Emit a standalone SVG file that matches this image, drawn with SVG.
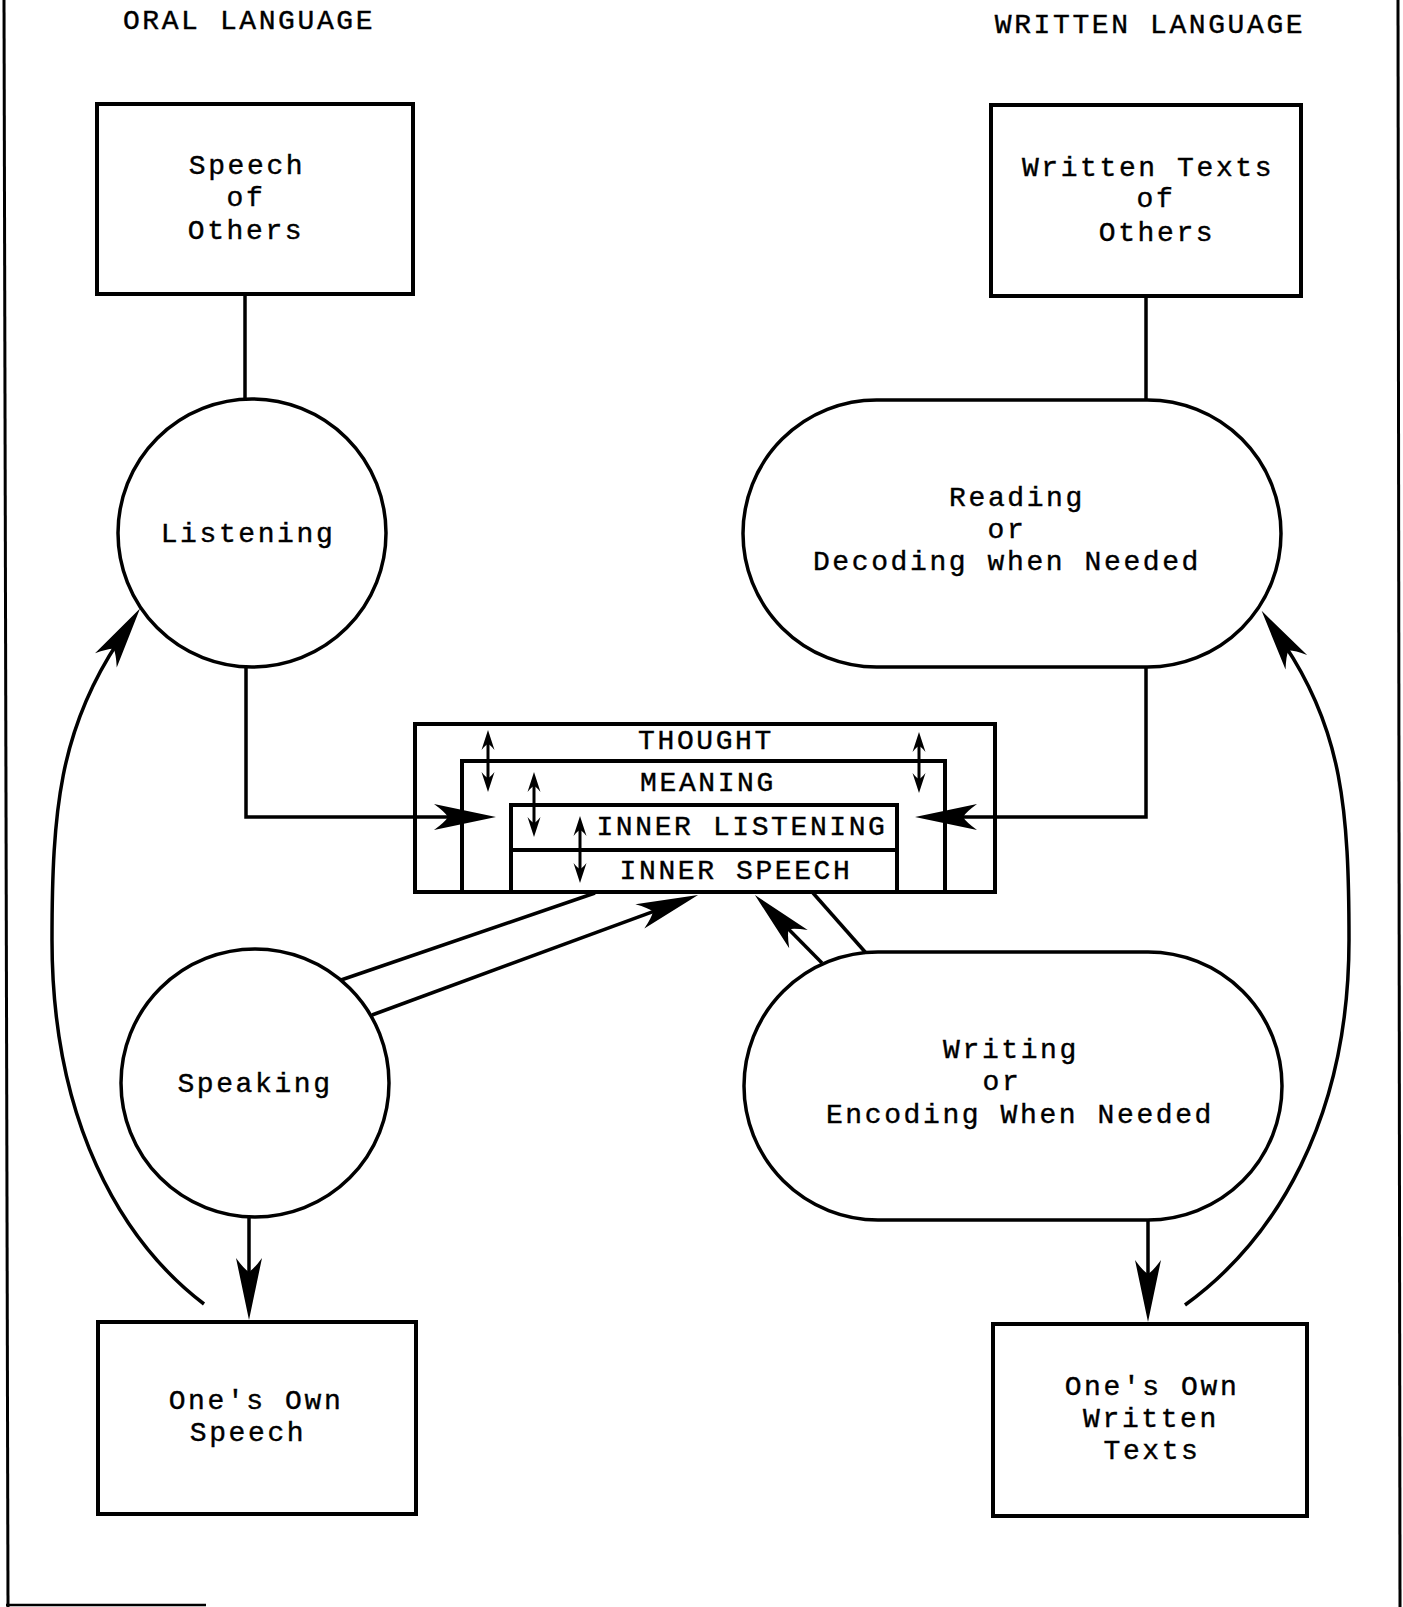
<svg xmlns="http://www.w3.org/2000/svg" width="1403" height="1607" viewBox="0 0 1403 1607">
<style>
  .box { fill: none; stroke: #000; stroke-width: 4; }
  .shape { fill: none; stroke: #000; stroke-width: 3.5; }
  .ln { fill: none; stroke: #000; stroke-width: 3.5; }
  .sm { fill: none; stroke: #000; stroke-width: 3; }
  text { font-family: "Liberation Mono", "Courier New", monospace; font-size: 28px; letter-spacing: 2.6px; fill: #000; stroke: #000; stroke-width: 0.4; text-anchor: middle; }
</style>
<defs>
  <marker id="big" markerUnits="userSpaceOnUse" viewBox="-66 -16 70 32" markerWidth="70" markerHeight="32" refX="-40" refY="0" orient="auto">
    <path d="M0,0 L-62,-13 Q-51,-5 -48,0 Q-51,5 -62,13 Z" fill="#000"/>
  </marker>
  <marker id="small" markerUnits="userSpaceOnUse" viewBox="-24 -9 26 18" markerWidth="26" markerHeight="18" refX="-9" refY="0" orient="auto-start-reverse">
    <path d="M0,0 L-20,-6.5 Q-15,-2.5 -14,0 Q-15,2.5 -20,6.5 Z" fill="#000"/>
  </marker>
</defs>
<rect width="1403" height="1607" fill="#fff"/>

<g id="frame">
  <line x1="4" y1="0" x2="8" y2="1607" stroke="#000" stroke-width="3"/>
  <line x1="1398" y1="0" x2="1400" y2="1607" stroke="#000" stroke-width="3"/>
  <line x1="6" y1="1605" x2="206" y2="1605" stroke="#000" stroke-width="2.5"/>
</g>

<g id="headings">
  <text x="249" y="29">ORAL LANGUAGE</text>
  <text x="1150" y="33">WRITTEN LANGUAGE</text>
</g>

<g id="connectors">
  <line class="ln" x1="245" y1="294" x2="245" y2="400"/>
  <line class="ln" x1="1146" y1="296" x2="1146" y2="400"/>
  <path class="ln" d="M246,667 V817 H456" marker-end="url(#big)"/>
  <path class="ln" d="M1146,667 V817 H955" marker-end="url(#big)"/>
  <line class="ln" x1="341" y1="980" x2="595" y2="893"/>
  <line class="ln" x1="372" y1="1015" x2="660.5" y2="908.8" marker-end="url(#big)"/>
  <line class="ln" x1="822" y1="963" x2="783" y2="923.5" marker-end="url(#big)"/>
  <line class="ln" x1="813" y1="893" x2="866" y2="953"/>
  <line class="ln" x1="249" y1="1217" x2="249" y2="1280" marker-end="url(#big)"/>
  <line class="ln" x1="1148" y1="1220" x2="1148" y2="1282" marker-end="url(#big)"/>
  <path class="ln" d="M204,1304 C120,1240 52,1120 52,940 C52,810 60,730 118,642" marker-end="url(#big)"/>
  <path class="ln" d="M1185,1305 C1275,1240 1349,1120 1349,940 C1349,810 1342,730 1284,644" marker-end="url(#big)"/>
</g>

<g id="speech-of-others">
  <rect class="box" x="97" y="104" width="316" height="190"/>
  <text x="247" y="174">Speech</text>
  <text x="246" y="206">of</text>
  <text x="246" y="239">Others</text>
</g>

<g id="written-texts-of-others">
  <rect class="box" x="991" y="105" width="310" height="191"/>
  <text x="1148" y="176">Written Texts</text>
  <text x="1156" y="207">of</text>
  <text x="1157" y="241">Others</text>
</g>

<g id="listening">
  <circle class="shape" cx="252" cy="533" r="134"/>
  <text x="248" y="542">Listening</text>
</g>

<g id="reading">
  <rect class="shape" x="743" y="400" width="538" height="267" rx="133.5" ry="133.5"/>
  <text x="1017" y="506">Reading</text>
  <text x="1007" y="538">or</text>
  <text x="1007" y="570">Decoding when Needed</text>
</g>

<g id="inner-box">
  <rect class="box" x="415" y="724" width="580" height="168"/>
  <path class="box" d="M462,892 V761 H945 V892"/>
  <rect class="box" x="511" y="805" width="386" height="87"/>
  <line class="box" x1="511" y1="850" x2="897" y2="850"/>
  <text x="706" y="749">THOUGHT</text>
  <text x="708" y="791">MEANING</text>
  <text x="742" y="835">INNER LISTENING</text>
  <text x="736" y="879">INNER SPEECH</text>
  <line class="sm" x1="488" y1="739" x2="488" y2="783" marker-start="url(#small)" marker-end="url(#small)"/>
  <line class="sm" x1="919" y1="741" x2="919" y2="784" marker-start="url(#small)" marker-end="url(#small)"/>
  <line class="sm" x1="534" y1="781" x2="534" y2="828" marker-start="url(#small)" marker-end="url(#small)"/>
  <line class="sm" x1="580" y1="825" x2="580" y2="874" marker-start="url(#small)" marker-end="url(#small)"/>
</g>

<g id="speaking">
  <circle class="shape" cx="255" cy="1083" r="134"/>
  <text x="255" y="1092">Speaking</text>
</g>

<g id="writing">
  <rect class="shape" x="744" y="952" width="538" height="268" rx="134" ry="134"/>
  <text x="1011" y="1058">Writing</text>
  <text x="1002" y="1090">or</text>
  <text x="1020" y="1123">Encoding When Needed</text>
</g>

<g id="ones-own-speech">
  <rect class="box" x="98" y="1322" width="318" height="192"/>
  <text x="256" y="1409">One's Own</text>
  <text x="248" y="1441">Speech</text>
</g>

<g id="ones-own-written-texts">
  <rect class="box" x="993" y="1324" width="314" height="192"/>
  <text x="1152" y="1395">One's Own</text>
  <text x="1151" y="1427">Written</text>
  <text x="1152" y="1459">Texts</text>
</g>
</svg>
